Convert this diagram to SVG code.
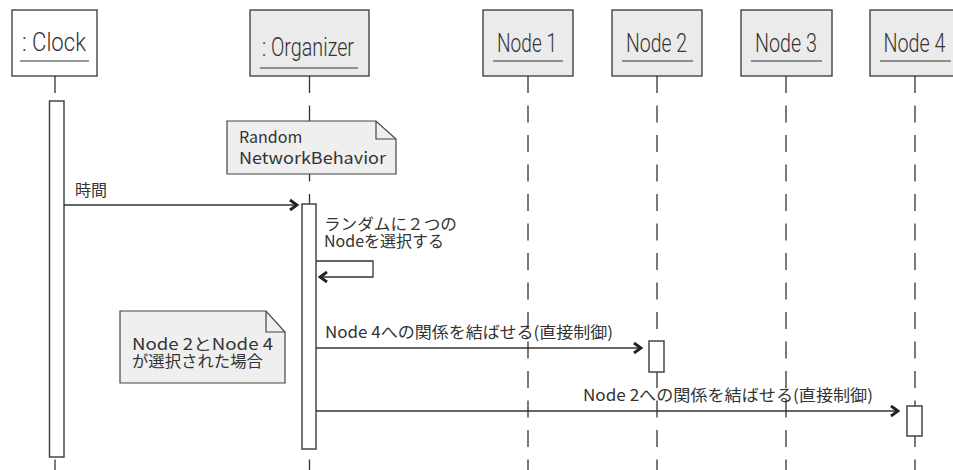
<svg xmlns="http://www.w3.org/2000/svg" width="953" height="470" viewBox="0 0 953 470">
  <style>
    .head { stroke: #363636; stroke-width: 1.3; }
    .obj { fill: #ebebeb; }
    .plain { fill: #ffffff; }
    .uline { stroke: #333; stroke-width: 1.2; }
    .htxt { font-family: Roboto, "Liberation Sans", Arial, sans-serif; font-weight: 300; font-size: 25px; fill: #333; text-anchor: middle; }
    .life { stroke: #333; stroke-width: 1.3; stroke-dasharray: 17 12.5; fill: none; }
    .act { fill: #ffffff; stroke: #444; stroke-width: 1.5; }
    .note { fill: #efefef; stroke: #444; stroke-width: 1.2; }
    .fold { fill: none; stroke: #444; stroke-width: 1.2; }
    .jtxt { font-family: "Noto Sans CJK JP", "Noto Sans", sans-serif; font-size: 16px; fill: #333; }
    .msg { stroke: #333; stroke-width: 1.3; fill: none; marker-end: url(#chev); }
  </style>
  <defs>
    <marker id="chev" markerUnits="userSpaceOnUse" viewBox="0 0 12 14" markerWidth="12" markerHeight="14" refX="10" refY="7" orient="auto">
      <path d="M3,2 L10,7 L3,12" fill="none" stroke="#222" stroke-width="2.8"/>
    </marker>
  </defs>
  <rect width="953" height="470" fill="#ffffff"/>

  <!-- lifelines -->
  <g id="lifelines">
    <line class="life" x1="55" y1="76" x2="55" y2="470"/>
    <line class="life" x1="309.5" y1="76" x2="309.5" y2="470"/>
    <line class="life" x1="528" y1="76" x2="528" y2="470"/>
    <line class="life" x1="657" y1="76" x2="657" y2="470"/>
    <line class="life" x1="786" y1="76" x2="786" y2="470"/>
    <line class="life" x1="915" y1="76" x2="915" y2="470"/>
  </g>

  <!-- participants -->
  <g id="clock">
    <rect class="head plain" x="12" y="10" width="85" height="66"/>
    <text class="htxt" x="54" y="51" textLength="64" lengthAdjust="spacingAndGlyphs">: Clock</text>
    <line class="uline" x1="20" y1="61" x2="89" y2="61"/>
    <rect class="act" x="49.5" y="101" width="14.5" height="356"/>
  </g>
  <g id="organizer">
    <rect class="head obj" x="250" y="10" width="119" height="66"/>
    <text class="htxt" x="308" y="56" textLength="92" lengthAdjust="spacingAndGlyphs">: Organizer</text>
    <line class="uline" x1="260" y1="68" x2="358" y2="68"/>
    <rect class="act" x="302" y="204" width="14" height="245"/>
  </g>
  <g id="node1">
    <rect class="head obj" x="483" y="10" width="90" height="66"/>
    <text class="htxt" x="527" y="52" textLength="60" lengthAdjust="spacingAndGlyphs">Node 1</text>
    <line class="uline" x1="493" y1="61" x2="563" y2="61"/>
  </g>
  <g id="node2">
    <rect class="head obj" x="612" y="10" width="90" height="66"/>
    <text class="htxt" x="656.5" y="52" textLength="61" lengthAdjust="spacingAndGlyphs">Node 2</text>
    <line class="uline" x1="622" y1="61" x2="693" y2="61"/>
    <rect class="act" x="649" y="341" width="15" height="31"/>
  </g>
  <g id="node3">
    <rect class="head obj" x="741" y="10" width="91" height="66"/>
    <text class="htxt" x="786" y="52" textLength="62" lengthAdjust="spacingAndGlyphs">Node 3</text>
    <line class="uline" x1="751" y1="61" x2="822" y2="61"/>
  </g>
  <g id="node4">
    <rect class="head obj" x="870" y="10" width="91" height="66"/>
    <text class="htxt" x="914.5" y="52" textLength="62" lengthAdjust="spacingAndGlyphs">Node 4</text>
    <line class="uline" x1="880" y1="61" x2="951" y2="61"/>
    <rect class="act" x="907" y="406" width="15" height="30"/>
  </g>

  <!-- notes -->
  <g id="note-behavior">
    <path class="note" d="M227,121 H376 L396,139 V174 H227 Z"/>
    <path class="fold" d="M376,121 V139 H396"/>
    <text class="jtxt" x="239" y="143" font-size="17">Random</text>
    <text class="jtxt" x="239" y="164" font-size="17" textLength="147" lengthAdjust="spacingAndGlyphs">NetworkBehavior</text>
  </g>
  <g id="note-case">
    <path class="note" d="M120,311 H266 L285,332 V383 H120 Z"/>
    <path class="fold" d="M266,311 V332 H285"/>
    <text class="jtxt" x="132" y="350" textLength="141" lengthAdjust="spacingAndGlyphs">Node 2とNode 4</text>
    <text class="jtxt" x="132" y="367" textLength="131" lengthAdjust="spacingAndGlyphs">が選択された場合</text>
  </g>

  <!-- messages -->
  <g id="connectors">
    <line class="msg" x1="64" y1="205" x2="297" y2="205"/>
    <path class="msg" d="M316,261 H373 V277 H320"/>
    <line class="msg" x1="316" y1="348" x2="641" y2="348"/>
    <line class="msg" x1="316" y1="411" x2="898" y2="411"/>
  </g>
  <g id="labels">
    <text class="jtxt" x="75" y="196">時間</text>
    <text class="jtxt" x="324" y="230" textLength="133" lengthAdjust="spacingAndGlyphs">ランダムに２つの</text>
    <text class="jtxt" x="324" y="247">Nodeを選択する</text>
    <text class="jtxt" x="325" y="338" textLength="288" lengthAdjust="spacingAndGlyphs">Node 4への関係を結ばせる(直接制御)</text>
    <text class="jtxt" x="583" y="401" textLength="290" lengthAdjust="spacingAndGlyphs">Node 2への関係を結ばせる(直接制御)</text>
  </g>
</svg>
